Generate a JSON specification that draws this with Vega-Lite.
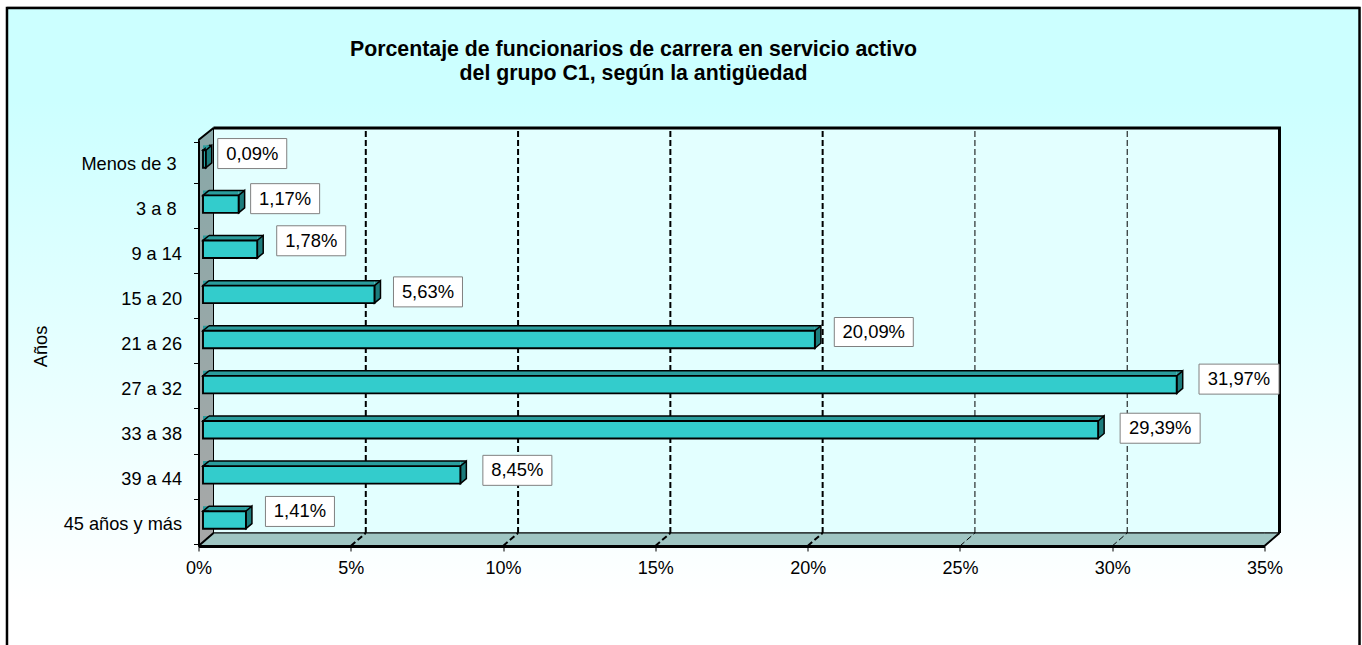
{"$schema":"https://vega.github.io/schema/vega-lite/v6.json","width":1066,"height":406,"autosize":"none","padding":{"left":198.5,"top":140,"right":97.5,"bottom":99},"background":"white","config":{"view":{"stroke":null},"font":"Liberation Sans"},
"title":{"text":["Porcentaje de funcionarios de carrera en servicio activo","del grupo C1, según la antigüedad"],"frame":"group","anchor":"middle","dx":-98,"offset":-78,"fontSize":21.3,"fontWeight":"bold","font":"Liberation Sans","color":"black","lineHeight":24.5},
"datasets":{"bars":[{"cat":"Menos de 3","value":0.09,"label":"0,09%"},{"cat":"3 a 8","value":1.17,"label":"1,17%"},{"cat":"9 a 14","value":1.78,"label":"1,78%"},{"cat":"15 a 20","value":5.63,"label":"5,63%"},{"cat":"21 a 26","value":20.09,"label":"20,09%"},{"cat":"27 a 32","value":31.97,"label":"31,97%"},{"cat":"33 a 38","value":29.39,"label":"29,39%"},{"cat":"39 a 44","value":8.45,"label":"8,45%"},{"cat":"45 años y más","value":1.41,"label":"1,41%"}],
"ticks":[{"t":5,"f":0,"b":0.032,"top":1.0296},{"t":10,"f":0,"b":0.032,"top":1.0296},{"t":15,"f":0,"b":0.032,"top":1.0296},{"t":20,"f":0,"b":0.032,"top":1.0296},{"t":25,"f":0,"b":0.032,"top":1.0296},{"t":30,"f":0,"b":0.032,"top":1.0296}],
"page":[{"a":-6.288,"b":38.12,"top":1.325,"bot":-0.3}],
"wall":[{"a":0.4925,"b":35.4925,"top":1.0296,"bot":0.032}],
"side":[{"x":0,"y":0,"y2":1},{"x":0.4925,"y":0.032,"y2":1.0296}],
"floor":[{"x":0,"y":0,"y2":0},{"x":0.4925,"y":0.032,"y2":0},{"x":35,"y":0.032,"y2":0},{"x":35.4925,"y":0.032,"y2":0.032}],
"rim":[{"x":0.4925,"y":1.0296},{"x":35.4925,"y":1.0296},{"x":35.4925,"y":0.032}],
"edges":[{"a":0,"b":0.4925,"c":1,"d":1.0296},{"a":35,"b":35.4925,"c":0,"d":0.032},{"a":0,"b":0.4925,"c":0,"d":0.032}]},
"layer":[
{"encoding":{"y":{"field":"top","type":"quantitative","scale":{"domain":[0,1],"nice":false,"zero":false},"axis":null}},
"layer":[
{"data":{"name":"page"},"mark":{"type":"rect","fill":"#b0b0b0","yOffset":-1.5,"y2Offset":-1.5,"clip":false},"encoding":{"x":{"field":"a","type":"quantitative","title":null,"scale":{"domain":[0,35],"nice":false},"axis":{"values":[0,5,10,15,20,25,30,35],"labelExpr":"datum.value+'%'","labelFlush":false,"grid":false,"domainColor":"black","domainWidth":3,"tickColor":"black","tickWidth":1,"tickSize":5,"labelFontSize":18,"labelColor":"black","labelFont":"Liberation Sans","labelPadding":8,"zindex":1}},"x2":{"field":"b"},"y2":{"field":"bot"}}},
{"data":{"name":"page"},"mark":{"type":"rect","stroke":"black","strokeWidth":2.5,"fill":{"gradient":"linear","x1":0,"y1":0,"x2":0,"y2":1,"stops":[{"offset":0,"color":"#ccffff"},{"offset":0.14,"color":"#ccffff"},{"offset":0.9,"color":"#ffffff"}]}},"encoding":{"x":{"field":"a","type":"quantitative","title":null},"x2":{"field":"b"},"y2":{"field":"bot"}}},
{"data":{"name":"wall"},"mark":{"type":"rect","fill":"#e3ffff","stroke":"black","strokeWidth":1},"encoding":{"x":{"field":"a","type":"quantitative","title":null},"x2":{"field":"b"},"y2":{"field":"bot"}}},
{"data":{"name":"side"},"mark":{"type":"area","stroke":"black","strokeWidth":1,"fill":{"gradient":"linear","x1":0,"y1":0,"x2":0,"y2":1,"stops":[{"offset":0,"color":"#88a8a8"},{"offset":1,"color":"#a8a8a8"}]}},"encoding":{"x":{"field":"x","type":"quantitative","title":null},"y":{"field":"y","type":"quantitative"},"y2":{"field":"y2"}}},
{"data":{"name":"floor"},"mark":{"type":"area","stroke":"black","strokeWidth":1,"fill":"#9fc5c2"},"encoding":{"x":{"field":"x","type":"quantitative","title":null},"y":{"field":"y","type":"quantitative"},"y2":{"field":"y2"}}},
{"data":{"name":"ticks"},"transform":[{"filter":"datum.t<=20"}],"mark":{"type":"rule","color":"black","strokeWidth":2,"strokeDash":[6,3],"xOffset":15,"x2Offset":15},"encoding":{"x":{"field":"t","type":"quantitative","title":null},"x2":{"field":"t"},"y":{"field":"b","type":"quantitative"},"y2":{"field":"top"}}},
{"data":{"name":"ticks"},"transform":[{"filter":"datum.t>20"}],"mark":{"type":"rule","color":"black","strokeWidth":1,"strokeDash":[6,3],"xOffset":15,"x2Offset":15},"encoding":{"x":{"field":"t","type":"quantitative","title":null},"x2":{"field":"t"},"y":{"field":"b","type":"quantitative"},"y2":{"field":"top"}}},
{"data":{"name":"ticks"},"transform":[{"filter":"datum.t<=20"}],"mark":{"type":"rule","color":"black","strokeWidth":2,"strokeDash":[6,3],"x2Offset":15},"encoding":{"x":{"field":"t","type":"quantitative","title":null},"x2":{"field":"t"},"y":{"field":"f","type":"quantitative"},"y2":{"field":"b"}}},
{"data":{"name":"ticks"},"transform":[{"filter":"datum.t>20"}],"mark":{"type":"rule","color":"black","strokeWidth":1,"strokeDash":[6,3],"x2Offset":15},"encoding":{"x":{"field":"t","type":"quantitative","title":null},"x2":{"field":"t"},"y":{"field":"f","type":"quantitative"},"y2":{"field":"b"}}},
{"data":{"name":"rim"},"mark":{"type":"line","color":"black","strokeWidth":3},"encoding":{"x":{"field":"x","type":"quantitative","title":null},"y":{"field":"y","type":"quantitative"}}},
{"data":{"name":"edges"},"mark":{"type":"rule","color":"black","strokeWidth":2},"encoding":{"x":{"field":"a","type":"quantitative","title":null},"x2":{"field":"b"},"y":{"field":"c","type":"quantitative"},"y2":{"field":"d"}}}
]},
{"data":{"name":"bars"},
"encoding":{"y":{"field":"cat","type":"nominal","sort":null,"title":"Años","axis":{"tickBand":"extent","domainColor":"black","domainWidth":2,"tickColor":"black","tickWidth":1,"tickSize":5,"labelFontSize":18.2,"labelColor":"black","labelFont":"Liberation Sans","labelPadding":{"condition":{"test":"datum.value=='Menos de 3'||datum.value=='3 a 8'","value":17.5},"value":12},"labelOffset":1.5,"titleFont":"Liberation Sans","titleFontSize":18.2,"titleFontWeight":"normal","titleColor":"black","titlePadding":13,"titleY":206,"grid":false,"zindex":1}},"x":{"field":"value","type":"quantitative","title":null}},
"layer":[
{"mark":{"type":"bar","height":5,"fill":"#2a9d9d","xOffset":4.5,"x2Offset":10.5,"yOffset":-14.75}},
{"mark":{"type":"point","shape":"M6,-8.75L0,-8.75L6,-13.75","size":4,"filled":true,"fill":"#2a9d9d","stroke":"black","strokeWidth":1.5,"opacity":1,"xOffset":4.5,"yOffset":-3.5},"encoding":{"x":{"datum":0,"type":"quantitative"}}},
{"mark":{"type":"point","shape":"M0,-8.75L0,-13.75L6,-13.75Z","size":4,"filled":true,"fill":"#2a9d9d","opacity":1,"xOffset":4.5,"yOffset":-3.5}},
{"mark":{"type":"bar","height":1.5,"fill":"black","xOffset":10.5,"x2Offset":10.5,"yOffset":-17.25}},
{"mark":{"type":"point","shape":"M0,-8.75L6,-13.75L6,3.75L0,8.75Z","size":4,"filled":true,"fill":"#1c7c7c","stroke":"black","strokeWidth":1.5,"opacity":1,"xOffset":4.5,"yOffset":-3.5}},
{"mark":{"type":"bar","height":17.5,"fill":"#33cccc","stroke":"black","strokeWidth":1.9,"xOffset":4.5,"x2Offset":4.5,"yOffset":-3.5}},
{"transform":[{"filter":"datum.value==0.09||datum.value==1.17"}],"layer":[{"mark":{"type":"rect","width":69,"height":30,"fill":"white","stroke":"#808080","xOffset":51,"yOffset":-9}},{"mark":{"type":"text","fontSize":18.4,"color":"black","font":"Liberation Sans","align":"center","baseline":"middle","xOffset":51,"yOffset":-9},"encoding":{"text":{"field":"label"}}}]},
{"transform":[{"filter":"datum.value==1.41||datum.value==1.78"}],"layer":[{"mark":{"type":"rect","width":69,"height":30,"fill":"white","stroke":"#808080","xOffset":58.5,"yOffset":-12}},{"mark":{"type":"text","fontSize":18.4,"color":"black","font":"Liberation Sans","align":"center","baseline":"middle","xOffset":58.5,"yOffset":-12},"encoding":{"text":{"field":"label"}}}]},
{"transform":[{"filter":"datum.value==5.63"}],"layer":[{"mark":{"type":"rect","width":69,"height":30,"fill":"white","stroke":"#808080","xOffset":58,"yOffset":-6}},{"mark":{"type":"text","fontSize":18.4,"color":"black","font":"Liberation Sans","align":"center","baseline":"middle","xOffset":58,"yOffset":-6},"encoding":{"text":{"field":"label"}}}]},
{"transform":[{"filter":"datum.value==8.45"}],"layer":[{"mark":{"type":"rect","width":69,"height":30,"fill":"white","stroke":"#808080","xOffset":61.5,"yOffset":-8}},{"mark":{"type":"text","fontSize":18.4,"color":"black","font":"Liberation Sans","align":"center","baseline":"middle","xOffset":61.5,"yOffset":-8},"encoding":{"text":{"field":"label"}}}]},
{"transform":[{"filter":"datum.value==20.09"}],"layer":[{"mark":{"type":"rect","width":79,"height":29,"fill":"white","stroke":"#808080","xOffset":63.4,"yOffset":-11}},{"mark":{"type":"text","fontSize":18.4,"color":"black","font":"Liberation Sans","align":"center","baseline":"middle","xOffset":63.4,"yOffset":-11},"encoding":{"text":{"field":"label"}}}]},
{"transform":[{"filter":"datum.value==31.97"}],"layer":[{"mark":{"type":"rect","width":80,"height":30,"fill":"white","stroke":"#808080","xOffset":66.8,"yOffset":-9}},{"mark":{"type":"text","fontSize":18.4,"color":"black","font":"Liberation Sans","align":"center","baseline":"middle","xOffset":66.8,"yOffset":-9},"encoding":{"text":{"field":"label"}}}]},
{"transform":[{"filter":"datum.value==29.39"}],"layer":[{"mark":{"type":"rect","width":80,"height":30,"fill":"white","stroke":"#808080","xOffset":66.5,"yOffset":-5}},{"mark":{"type":"text","fontSize":18.4,"color":"black","font":"Liberation Sans","align":"center","baseline":"middle","xOffset":66.5,"yOffset":-5},"encoding":{"text":{"field":"label"}}}]}
]}
],
"resolve":{"scale":{"y":"independent"},"axis":{"y":"independent"}}}
